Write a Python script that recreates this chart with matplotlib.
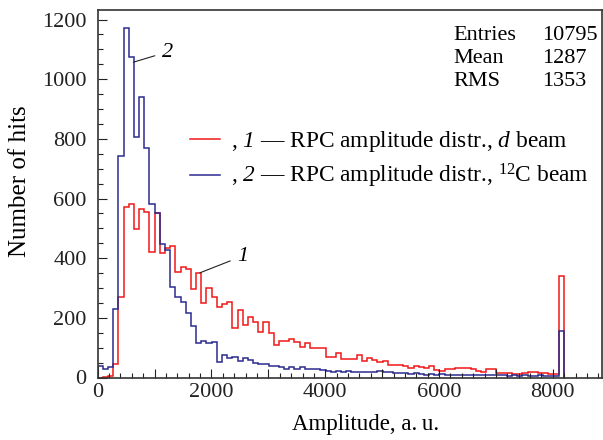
import numpy as np
import matplotlib
matplotlib.use("Agg")
import matplotlib.pyplot as plt
from matplotlib.lines import Line2D
from matplotlib.ticker import MultipleLocator, FuncFormatter

plt.rcParams['font.family'] = ['Liberation Serif', 'DejaVu Serif']
plt.rcParams['mathtext.fontset'] = 'custom'
plt.rcParams['mathtext.rm'] = 'Liberation Serif'
plt.rcParams['mathtext.it'] = 'Liberation Serif:italic'
# mathtext draws digits upright inside \mathit, so italic digits go through sf
plt.rcParams['mathtext.sf'] = 'Liberation Serif:italic'

# 90 channels over the 13-bit ADC range, last one collects the overflow
n_bins = 90
adc_max = 8192

# curve 1: d beam
counts_d = [0, 2, 6, 45, 271, 573, 582, 498, 564, 554,
            420, 553, 416, 435, 442, 355, 372, 363, 296, 349,
            249, 299, 270, 238, 246, 252, 165, 226, 176, 204,
            187, 154, 187, 150, 109, 124, 124, 128, 120, 103,
            115, 98, 98, 98, 70, 68, 81, 61, 61, 62,
            75, 55, 66, 60, 53, 55, 42, 42, 42, 38,
            31, 38, 36, 33, 38, 25, 22, 27, 29, 31,
            33, 33, 27, 22, 20, 29, 27, 15, 15, 15,
            12, 12, 15, 18, 18, 14, 14, 12, 12, 340]

# curve 2: 12C beam
counts_c = [40, 30, 35, 229, 744, 1172, 1073, 807, 939, 770,
            582, 553, 446, 427, 304, 269, 254, 215, 174, 115,
            123, 115, 120, 53, 75, 67, 68, 56, 64, 58,
            50, 45, 45, 39, 39, 34, 28, 34, 30, 34,
            28, 30, 28, 25, 22, 20, 22, 18, 22, 18,
            17, 20, 17, 20, 22, 18, 17, 15, 14, 15,
            12, 14, 12, 10, 12, 10, 12, 10, 9, 10,
            8, 10, 8, 9, 7, 8, 10, 7, 8, 6,
            8, 6, 7, 6, 5, 7, 5, 4, 5, 157]

stat_names = ["Entries", "Mean", "RMS"]
stat_values = ["10795", "1287", "1353"]

red = "#f01818"
blue = "#2b2b8e"

edges = np.linspace(0, adc_max, n_bins + 1)

fig = plt.figure(figsize=(6.03, 4.40), dpi=100)
ax = fig.add_axes([97.7 / 603, 1 - 377.5 / 440, (601.5 - 97.7) / 603, (377.5 - 10) / 440])

ax.stairs(counts_d, edges, color=red, lw=1.1)
ax.stairs(counts_c, edges, color=blue, lw=1.1)

ax.set_xlim(0, 8855)
ax.set_ylim(0, 1232)

ax.xaxis.set_major_locator(MultipleLocator(1000))
ax.xaxis.set_minor_locator(MultipleLocator(200))
ax.xaxis.set_major_formatter(FuncFormatter(lambda v, p: "%d" % v if int(round(v)) % 2000 == 0 else ""))
ax.yaxis.set_major_locator(MultipleLocator(200))
ax.yaxis.set_minor_locator(MultipleLocator(50))

ax.tick_params(which='both', direction='in', top=False, right=False, colors='#222222', labelsize=16)
ax.tick_params(which='major', length=6.5, width=0.8)
ax.tick_params(which='minor', length=3.6, width=0.8)
ax.tick_params(axis='x', pad=4)
ax.tick_params(axis='y', pad=8)
for s in ax.spines.values():
    s.set_color('#333333')
    s.set_linewidth(1.2)

fig.text(366 / 603, 1 - 424 / 440, "Amplitude, a.\u2009u.", fontsize=16.5, ha='center', va='center')
fig.text(20 / 603, 1 - 181 / 440, "Number of hits", fontsize=18, rotation=90, ha='center', va='center')

handles = [Line2D([], [], color=red, lw=1.1), Line2D([], [], color=blue, lw=1.1)]
labels = [r", $\mathsf{1}$ — RPC amplitude distr., $\mathit{d}$ beam",
          r", $\mathsf{2}$ — RPC amplitude distr., $^{12}$C beam"]
ax.legend(handles, labels, loc='upper left', bbox_to_anchor=(190 / 603, 1 - 129 / 440),
          bbox_transform=fig.transFigure, frameon=False, fontsize=16.8,
          handlelength=1.3, handletextpad=0.45, borderpad=0, borderaxespad=0,
          labelspacing=0.35)

for i, (n, v) in enumerate(zip(stat_names, stat_values)):
    y = 1 - (36 + 22.5 * i) / 440
    fig.text(453 / 603, y, n, fontsize=16, ha='left', va='center')
    fig.text(542 / 603, y, v, fontsize=16, ha='left', va='center')

ax.annotate("2", xy=(626, 1057), xytext=(1221, 1091), fontsize=16, fontstyle='italic',
            ha='center', va='center',
            arrowprops=dict(arrowstyle='-', color='#222222', lw=0.8, shrinkA=3, shrinkB=0))
ax.annotate("1", xy=(1797, 351), xytext=(2545, 407), fontsize=16, fontstyle='italic',
            ha='center', va='center',
            arrowprops=dict(arrowstyle='-', color='#222222', lw=0.8, shrinkA=3, shrinkB=0))

fig.savefig("out.png", dpi=100)
